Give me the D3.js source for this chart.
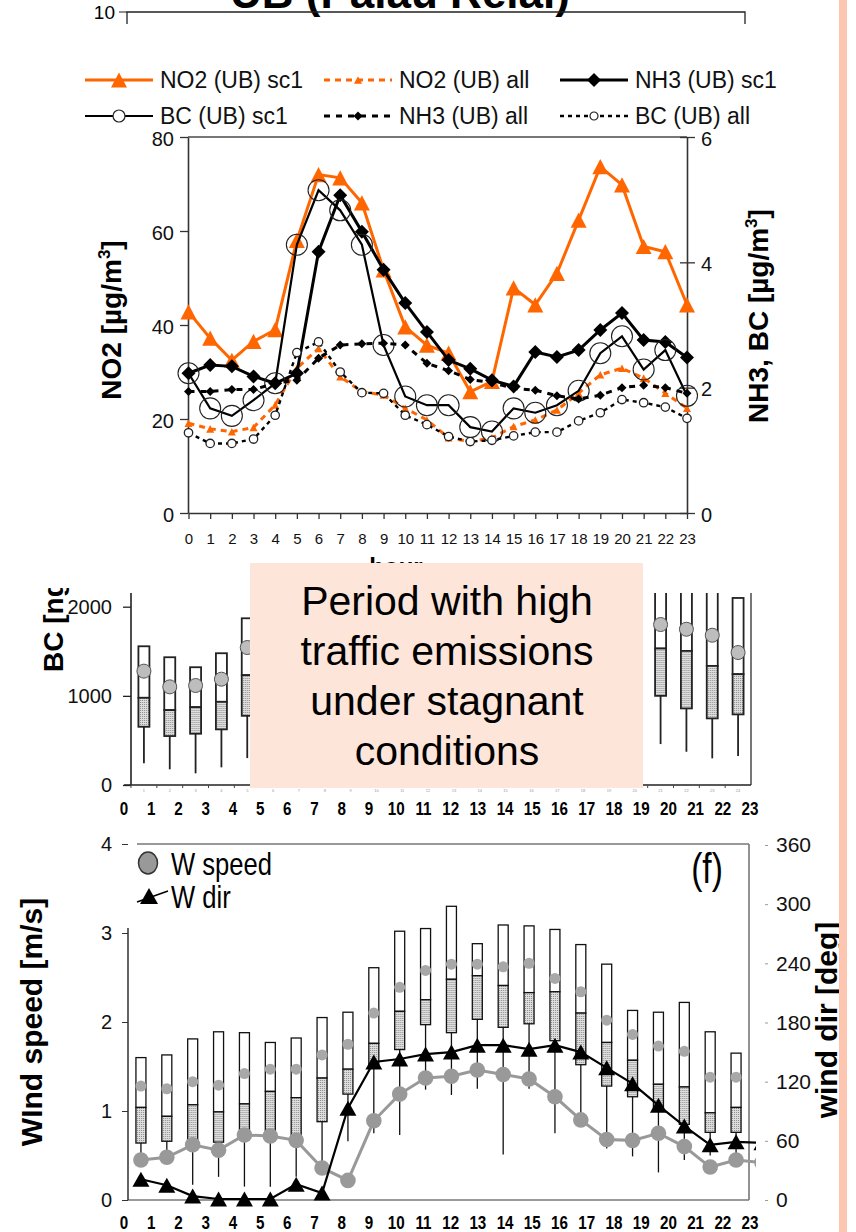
<!DOCTYPE html>
<html><head><meta charset="utf-8">
<script src="https://cdn.jsdelivr.net/npm/d3@7"></script>
<style>
body{margin:0;background:#fff;}
svg{display:block;font-family:"Liberation Sans",Arial,sans-serif;}
</style></head><body>
<svg id="fig" width="856" height="1232"></svg>
<script>
// ---------- hourly profiles, urban background site ----------
const hours = [0,1,2,3,4,5,6,7,8,9,10,11,12,13,14,15,16,17,18,19,20,21,22,23];
const no2Sc1 = [42.8,37.2,32.5,36.5,39,58,72,71.3,66,51.7,39.6,35.7,34,25.8,28,47.9,44.3,51,62.3,73.7,69.8,56.7,55.6,44.3];
const no2All = [19.1,17.9,17.3,18.2,23,30.8,35,29,25.8,25.1,22.3,19.8,16,15.2,16,18.4,19.8,21.9,25.5,29.4,30.8,28.7,25.5,22.3];
const nh3Sc1 = [2.23,2.36,2.34,2.18,2.07,2.23,4.17,5.07,4.49,3.88,3.35,2.89,2.44,2.3,2.12,2.02,2.57,2.49,2.6,2.92,3.19,2.76,2.73,2.48];
const nh3All = [1.94,1.94,1.97,1.97,2.07,2.12,2.47,2.68,2.7,2.71,2.68,2.39,2.27,2.13,2.08,1.99,1.96,1.87,1.82,1.88,2.0,2.04,2.0,1.91];
const bcSc1 = [2.23,1.67,1.55,1.8,2.07,4.28,5.15,4.83,4.28,2.68,1.86,1.72,1.72,1.37,1.3,1.67,1.6,1.72,1.95,2.55,2.82,2.29,2.6,1.87];
const bcAll = [1.28,1.11,1.11,1.18,1.56,2.56,2.73,2.25,1.92,1.91,1.56,1.41,1.22,1.14,1.16,1.23,1.29,1.29,1.47,1.6,1.81,1.76,1.69,1.51];
const leftTicks = [0,20,40,60,80];
const rightTicks = [0,2,4,6];

// ---------- BC box statistics [ng/m3] ----------
const bcHours = [0,1,2,3,4,20,21,22,23];
const bcLow = [243,176,131,198,302,459,373,299,325];
const bcQ1 = [653,549,575,624,776,1000,859,747,792];
const bcMed = [978,840,873,933,1232,1531,1504,1336,1243];
const bcQ3 = [1556,1433,1321,1478,1870,2300,2300,2300,2098];
const bcMean = [1277,1101,1116,1187,1542,1800,1747,1680,1486];
const bcTicks = [0,1000,2000];

// ---------- wind ----------
const windLow = [0.5,0.5,0.17,0.26,0.15,0.15,0.26,0.3,0.66,0.75,0.73,1.24,1.18,1.25,0.51,1.25,0.75,0.9,0.58,0.49,0.31,0.45,0.5,0.5];
const windQ1 = [0.64,0.66,0.67,0.65,0.69,0.75,0.72,0.88,1.19,1.49,1.69,1.97,1.88,2.03,1.94,1.98,1.79,1.52,1.28,1.16,1.0,0.85,0.76,0.76];
const windMed = [1.04,0.94,1.07,0.99,1.08,1.22,1.15,1.37,1.47,1.76,2.12,2.25,2.48,2.52,2.41,2.33,2.34,2.1,1.77,1.57,1.3,1.27,0.98,1.04];
const windQ3 = [1.6,1.63,1.81,1.89,1.88,1.77,1.82,2.05,2.11,2.61,3.02,3.05,3.3,2.88,3.09,3.08,3.04,2.87,2.65,2.13,2.11,2.22,1.89,1.65];
const windMean = [1.28,1.25,1.33,1.29,1.42,1.47,1.47,1.63,1.75,2.1,2.39,2.58,2.65,2.65,2.62,2.66,2.49,2.34,2.02,1.86,1.73,1.67,1.38,1.38];
const windSpeed = [0.45,0.48,0.62,0.56,0.73,0.72,0.67,0.36,0.22,0.89,1.19,1.37,1.39,1.46,1.41,1.36,1.16,0.9,0.68,0.67,0.75,0.6,0.37,0.45,0.42];
const windDir = [21,15,4,1,1,1,16,7,93,140,143,148,150,157,157,153,157,150,134,118,96,75,56,59,58];
const speedTicks = [0,1,2,3,4];
const dirTicks = [0,60,120,180,240,300,360];

const ORANGE = "#ff6600";
const SQUEEZE = 0.8; // horizontal compression for the condensed labels
const fmt = d3.format("d");

const svg = d3.select("#fig");
const defs = svg.append("defs");
const pat = defs.append("pattern").attr("id","stipple").attr("width",2).attr("height",2).attr("patternUnits","userSpaceOnUse");
pat.append("rect").attr("width",2).attr("height",2).attr("fill","#dedede");
pat.append("rect").attr("width",1).attr("height",1).attr("fill","#8c8c8c");

function tri(w,h){ return `M0,${-h/2}L${w/2},${h/2}L${-w/2},${h/2}Z`; }
function diamond(r){ return `M0,${-r}L${r},0L0,${r}L${-r},0Z`; }
function condensed(sel,x,y){ return sel.attr("transform",`translate(${x},${y}) scale(${SQUEEZE},1)`); }

// =============== upper frame remnant and title ===============
const headG = svg.append("g");
headG.append("text").attr("x",400).attr("y",8).attr("text-anchor","middle")
  .attr("font-size",44).attr("font-weight","bold").text("UB (Palau Reial)");
headG.append("path").attr("d","M127,24V12H745V24").attr("fill","none").attr("stroke","#222").attr("stroke-width",1.3);
headG.append("line").attr("x1",119).attr("x2",127).attr("y1",12).attr("y2",12).attr("stroke","#222");
headG.append("text").attr("x",115).attr("y",19).attr("text-anchor","end").attr("font-size",19).text("10");

// =============== NO2 / NH3 / BC hourly panel ===============
const xTop = d3.scaleLinear().domain([0,23]).range([188.5,687]);
const yNO2 = d3.scaleLinear().domain([0,80]).range([513,137]);
const yNH3 = d3.scaleLinear().domain([0,6]).range([513,137]);

const pTop = svg.append("g");
pTop.append("line").attr("x1",188).attr("x2",687).attr("y1",137).attr("y2",137).attr("stroke","#777").attr("stroke-width",2);
const axL = pTop.append("g").attr("transform","translate(188,0)")
  .call(d3.axisLeft(yNO2).tickValues(leftTicks).tickFormat(fmt).tickSize(8).tickPadding(6).tickSizeOuter(0));
const axR = pTop.append("g").attr("transform","translate(687,0)")
  .call(d3.axisRight(yNH3).tickValues(rightTicks).tickFormat(fmt).tickSize(8).tickPadding(6).tickSizeOuter(0));
axR.selectAll(".tick line").attr("x1",-7);
const axB = pTop.append("g").attr("transform","translate(0,513)")
  .call(d3.axisBottom(xTop).tickValues(hours).tickFormat(fmt).tickSize(6).tickPadding(14).tickSizeOuter(0));
[axL,axR,axB].forEach(a=>{
  a.select(".domain").attr("stroke","#333").attr("stroke-width",1.6);
  a.selectAll(".tick line").attr("stroke","#333").attr("stroke-width",1.3);
  a.selectAll("text").attr("fill","#111").attr("font-family","'Liberation Sans',Arial,sans-serif");
});
axL.selectAll("text").attr("font-size",20).attr("dy","0.4em");
axR.selectAll("text").attr("font-size",20).attr("dy","0.4em");
axB.selectAll("text").attr("font-size",15);

// axis titles
const tl = pTop.append("text").attr("transform","translate(121,320) rotate(-90)").attr("text-anchor","middle")
  .attr("font-size",28).attr("font-weight","bold");
tl.append("tspan").text("NO2 [µg/m");
tl.append("tspan").attr("font-size",17).attr("dy",-11).text("3");
tl.append("tspan").attr("dy",11).text("]");
const tr = pTop.append("text").attr("transform","translate(768,316) rotate(-90)").attr("text-anchor","middle")
  .attr("font-size",28).attr("font-weight","bold");
tr.append("tspan").text("NH3, BC [µg/m");
tr.append("tspan").attr("font-size",17).attr("dy",-11).text("3");
tr.append("tspan").attr("dy",11).text("]");

const lineL = d3.line().x((d,i)=>xTop(hours[i])).y(d=>yNO2(d));
const lineR = d3.line().x((d,i)=>xTop(hours[i])).y(d=>yNH3(d));

const series = [
  {vals:no2Sc1, line:lineL, y:yNO2, color:ORANGE, w:3, dash:null, mark:"tri", size:16},
  {vals:no2All, line:lineL, y:yNO2, color:ORANGE, w:3, dash:"6,5", mark:"tri", size:8},
  {vals:nh3Sc1, line:lineR, y:yNH3, color:"#000", w:3, dash:null, mark:"dia", size:7},
  {vals:bcSc1, line:lineR, y:yNH3, color:"#000", w:2.2, dash:null, mark:"circ", size:10.5},
  {vals:nh3All, line:lineR, y:yNH3, color:"#000", w:3, dash:"6,6", mark:"dia", size:4.5},
  {vals:bcAll, line:lineR, y:yNH3, color:"#000", w:2.4, dash:"4,4", mark:"circ", size:4.2}
];
const plotG = pTop.append("g");
series.forEach(s=>{
  plotG.append("path").datum(s.vals).attr("d",s.line).attr("fill","none")
    .attr("stroke",s.color).attr("stroke-width",s.w).attr("stroke-dasharray",s.dash);
  const pts = plotG.append("g").selectAll("g").data(s.vals).join("g")
    .attr("transform",(d,i)=>`translate(${xTop(hours[i])},${s.y(d)})`);
  if(s.mark==="tri") pts.append("path").attr("d",tri(s.size,s.size*0.95)).attr("fill",s.color);
  if(s.mark==="dia") pts.append("path").attr("d",diamond(s.size)).attr("fill","#000");
  if(s.mark==="circ") pts.append("circle").attr("r",s.size)
    .attr("stroke","#222").attr("stroke-width",s.size>6?1.1:1.3).attr("fill",s.size>6?"none":"#fff");
});

// legend
const legendItems = [
  {label:"NO2 (UB) sc1", s:series[0], x:85, y:80},
  {label:"NO2 (UB) all", s:series[1], x:324, y:80},
  {label:"NH3 (UB) sc1", s:series[2], x:560, y:80},
  {label:"BC (UB) sc1", s:series[3], x:85, y:116},
  {label:"NH3 (UB) all", s:series[4], x:324, y:116},
  {label:"BC (UB) all", s:series[5], x:560, y:116}
];
const lg = svg.append("g");
legendItems.forEach(it=>{
  const g = lg.append("g").attr("transform",`translate(${it.x},${it.y})`);
  g.append("line").attr("x1",0).attr("x2",68).attr("stroke",it.s.color).attr("stroke-width",it.s.w)
    .attr("stroke-dasharray",it.s.dash);
  const m = g.append("g").attr("transform","translate(34,0)");
  const sz = it.s.mark==="circ" ? (it.s.size>6?6:4) : it.s.size;
  if(it.s.mark==="tri") m.append("path").attr("d",tri(sz,sz*0.95)).attr("fill",it.s.color);
  if(it.s.mark==="dia") m.append("path").attr("d",diamond(sz)).attr("fill","#000");
  if(it.s.mark==="circ") m.append("circle").attr("r",sz).attr("fill","#fff").attr("stroke","#222").attr("stroke-width",1.2);
  g.append("text").attr("x",75).attr("y",8).attr("font-size",23).attr("fill","#111").text(it.label);
});

// hour label of the upper panel (mostly under the note box)
svg.append("text").attr("x",396).attr("y",575).attr("text-anchor","middle").attr("font-size",24)
  .attr("font-weight","bold").text("hour");

// =============== BC box plot panel ===============
defs.append("clipPath").attr("id","midClip").append("rect").attr("x",0).attr("y",588).attr("width",838).attr("height",240);
defs.append("clipPath").attr("id","midPlot").append("rect").attr("x",131).attr("y",593).attr("width",620).attr("height",200);
const mid = svg.append("g").attr("clip-path","url(#midClip)");
const xBC = d3.scaleBand().domain(hours).range([131,751]);
const yBC = d3.scaleLinear().domain([0,2000]).range([785,606.7]);
const bw = 11;

mid.append("line").attr("x1",131).attr("x2",131).attr("y1",593).attr("y2",785).attr("stroke","#222").attr("stroke-width",1.6);
mid.append("line").attr("x1",751).attr("x2",751).attr("y1",593).attr("y2",785).attr("stroke","#555").attr("stroke-width",1.6);
mid.append("line").attr("x1",124).attr("x2",751).attr("y1",785).attr("y2",785).attr("stroke","#222").attr("stroke-width",1.6);
const axBC = mid.append("g").attr("transform","translate(131,0)")
  .call(d3.axisLeft(yBC).tickValues(bcTicks).tickFormat(fmt).tickSize(8).tickPadding(11));
axBC.select(".domain").remove();
axBC.selectAll(".tick line").attr("stroke","#222").attr("stroke-width",1.3);
axBC.selectAll("text").attr("font-size",20).attr("fill","#111").attr("font-family","'Liberation Sans',Arial,sans-serif");
// small category ticks with tiny labels
mid.append("g").selectAll("line").data(hours).join("line")
  .attr("x1",d=>xBC(d)).attr("x2",d=>xBC(d)).attr("y1",785).attr("y2",788).attr("stroke","#444");
mid.append("g").selectAll("text").data(hours).join("text")
  .attr("x",d=>xBC(d)+xBC.bandwidth()/2).attr("y",792).attr("text-anchor","middle")
  .attr("font-size",4).attr("fill","#999").text(d=>d+1);
const bcLab = mid.append("text").attr("transform","translate(63,672) rotate(-90)")
  .attr("font-size",28).attr("font-weight","bold");
bcLab.append("tspan").text("BC [ng/m");
bcLab.append("tspan").attr("font-size",17).attr("dy",-11).text("3");
bcLab.append("tspan").attr("dy",11).text("]");

const boxes = mid.append("g").attr("clip-path","url(#midPlot)").selectAll("g").data(bcHours).join("g")
  .attr("transform",d=>`translate(${xBC(d)+xBC.bandwidth()/2},0)`);
boxes.append("line").attr("y1",(d,i)=>yBC(bcQ1[i])).attr("y2",(d,i)=>yBC(bcLow[i])).attr("stroke","#222").attr("stroke-width",1.8);
boxes.append("rect").attr("x",-bw/2).attr("width",bw).attr("y",(d,i)=>yBC(bcQ3[i]))
  .attr("height",(d,i)=>yBC(bcMed[i])-yBC(bcQ3[i])).attr("fill","#fff").attr("stroke","#222").attr("stroke-width",1.8);
boxes.append("rect").attr("x",-bw/2).attr("width",bw).attr("y",(d,i)=>yBC(bcMed[i]))
  .attr("height",(d,i)=>yBC(bcQ1[i])-yBC(bcMed[i])).attr("fill","url(#stipple)").attr("stroke","#222").attr("stroke-width",1.8);
boxes.append("circle").attr("cy",(d,i)=>yBC(bcMean[i])).attr("r",7).attr("fill","#bdbdbd").attr("stroke","#555").attr("stroke-width",1);

svg.append("g").selectAll("text").data(hours).join("text")
  .attr("transform",d=>`translate(${124+d*27.22},815) scale(${SQUEEZE},1)`).attr("text-anchor","middle")
  .attr("font-weight","bold").attr("font-size",19).text(d=>d);

// note box
const note = svg.append("g");
note.append("rect").attr("x",250).attr("y",563).attr("width",393).attr("height",225).attr("fill","#fde6d9");
["Period with high","traffic emissions","under stagnant","conditions"].forEach((t,i)=>{
  note.append("text").attr("x",447).attr("y",615+i*50).attr("text-anchor","middle")
    .attr("font-size",41).attr("fill","#000").text(t);
});

// =============== wind panel ===============
const xW = d3.scaleBand().domain(hours).range([128,749]);
const cW = d3.scaleLinear().domain([0,23]).range([xW(0)+xW.bandwidth()/2, xW(23)+xW.bandwidth()/2]);
const ySpd = d3.scaleLinear().domain([0,4]).range([1200,844]);
const yDir = d3.scaleLinear().domain([0,360]).range([1200,845]);
const wb = 10;
const wp = svg.append("g");
wp.append("line").attr("x1",137).attr("x2",749).attr("y1",844).attr("y2",844).attr("stroke","#777").attr("stroke-width",1.6);
wp.append("line").attr("x1",749).attr("x2",749).attr("y1",844).attr("y2",1200).attr("stroke","#777").attr("stroke-width",1.6);
wp.append("line").attr("x1",128).attr("x2",749).attr("y1",1200).attr("y2",1200).attr("stroke","#777").attr("stroke-width",1.6);
wp.append("line").attr("x1",128).attr("x2",128).attr("y1",928).attr("y2",1200).attr("stroke","#222").attr("stroke-width",1.4);
const axS = wp.append("g").attr("transform","translate(128,0)")
  .call(d3.axisLeft(ySpd).tickValues(speedTicks).tickFormat(fmt).tickSize(6).tickPadding(10));
axS.select(".domain").remove();
axS.selectAll(".tick line").attr("stroke","#333");
axS.selectAll("text").attr("font-size",20).attr("fill","#111").attr("font-family","'Liberation Sans',Arial,sans-serif");
const axD = wp.append("g").attr("transform","translate(765,0)")
  .call(d3.axisRight(yDir).tickValues(dirTicks).tickFormat(fmt).tickSize(3).tickPadding(8));
axD.select(".domain").remove();
axD.selectAll(".tick line").attr("stroke","#999");
axD.selectAll("text").attr("font-size",21).attr("fill","#111").attr("font-family","'Liberation Sans',Arial,sans-serif");

const wBoxes = wp.append("g").selectAll("g").data(hours).join("g")
  .attr("transform",d=>`translate(${xW(d)+xW.bandwidth()/2},0)`);
wBoxes.append("line").attr("y1",(d,i)=>ySpd(windQ1[i])).attr("y2",(d,i)=>ySpd(windLow[i])).attr("stroke","#111").attr("stroke-width",1.3);
wBoxes.append("rect").attr("x",-wb/2).attr("width",wb).attr("y",(d,i)=>ySpd(windQ3[i]))
  .attr("height",(d,i)=>ySpd(windMed[i])-ySpd(windQ3[i])).attr("fill","#fff").attr("stroke","#111").attr("stroke-width",1.3);
wBoxes.append("rect").attr("x",-wb/2).attr("width",wb).attr("y",(d,i)=>ySpd(windMed[i]))
  .attr("height",(d,i)=>ySpd(windQ1[i])-ySpd(windMed[i])).attr("fill","url(#stipple)").attr("stroke","#111").attr("stroke-width",1.3);
wBoxes.append("circle").attr("cy",(d,i)=>ySpd(windMean[i])).attr("r",5.5).attr("fill","#a8a8a8");

defs.append("clipPath").attr("id","windClip").append("rect").attr("x",120).attr("y",830).attr("width",636).attr("height",390);
const wSeries = wp.append("g").attr("clip-path","url(#windClip)");
wSeries.append("path").datum(windSpeed).attr("d",d3.line().x((d,i)=>cW(i)).y(d=>ySpd(d)))
  .attr("fill","none").attr("stroke","#999").attr("stroke-width",3);
wSeries.append("g").selectAll("circle").data(windSpeed).join("circle")
  .attr("cx",(d,i)=>cW(i)).attr("cy",d=>ySpd(d)).attr("r",7.8).attr("fill","#999");
wSeries.append("path").datum(windDir).attr("d",d3.line().x((d,i)=>cW(i)).y(d=>yDir(d)))
  .attr("fill","none").attr("stroke","#000").attr("stroke-width",2.2);
wSeries.append("g").selectAll("path").data(windDir).join("path")
  .attr("transform",(d,i)=>`translate(${cW(i)},${yDir(d)})`).attr("d",tri(17,15)).attr("fill","#000");

// legend
const wl = wp.append("g");
wl.append("ellipse").attr("cx",148).attr("cy",863).attr("rx",9.5).attr("ry",11).attr("fill","#999").attr("stroke","#333").attr("stroke-width",1.5);
condensed(wl.append("text"),171,875).attr("font-size",32).text("W speed");
wl.append("line").attr("x1",137).attr("y1",902).attr("x2",168).attr("y2",891).attr("stroke","#000").attr("stroke-width",1.5);
wl.append("path").attr("transform","translate(149,896)").attr("d",tri(18,16)).attr("fill","#000");
condensed(wl.append("text"),171,908).attr("font-size",32).text("W dir");
condensed(wp.append("text"),707,883).attr("text-anchor","middle").attr("font-size",42).text("(f)");

wp.append("text").attr("transform","translate(42,1022) rotate(-90)").attr("text-anchor","middle")
  .attr("font-size",30).attr("font-weight","bold").text("WInd speed [m/s]");
wp.append("text").attr("transform","translate(837,1020) rotate(-90)").attr("text-anchor","middle")
  .attr("font-size",30).attr("font-weight","bold").text("wind dir [deg]");

wp.append("g").selectAll("text").data(hours).join("text")
  .attr("transform",d=>`translate(${124+d*27.22},1229) scale(${SQUEEZE},1)`).attr("text-anchor","middle")
  .attr("font-weight","bold").attr("font-size",19).text(d=>d);

// side stripe
svg.append("rect").attr("x",839).attr("y",0).attr("width",8).attr("height",1232).attr("fill","#fcc6b0");
</script>
</body></html>
